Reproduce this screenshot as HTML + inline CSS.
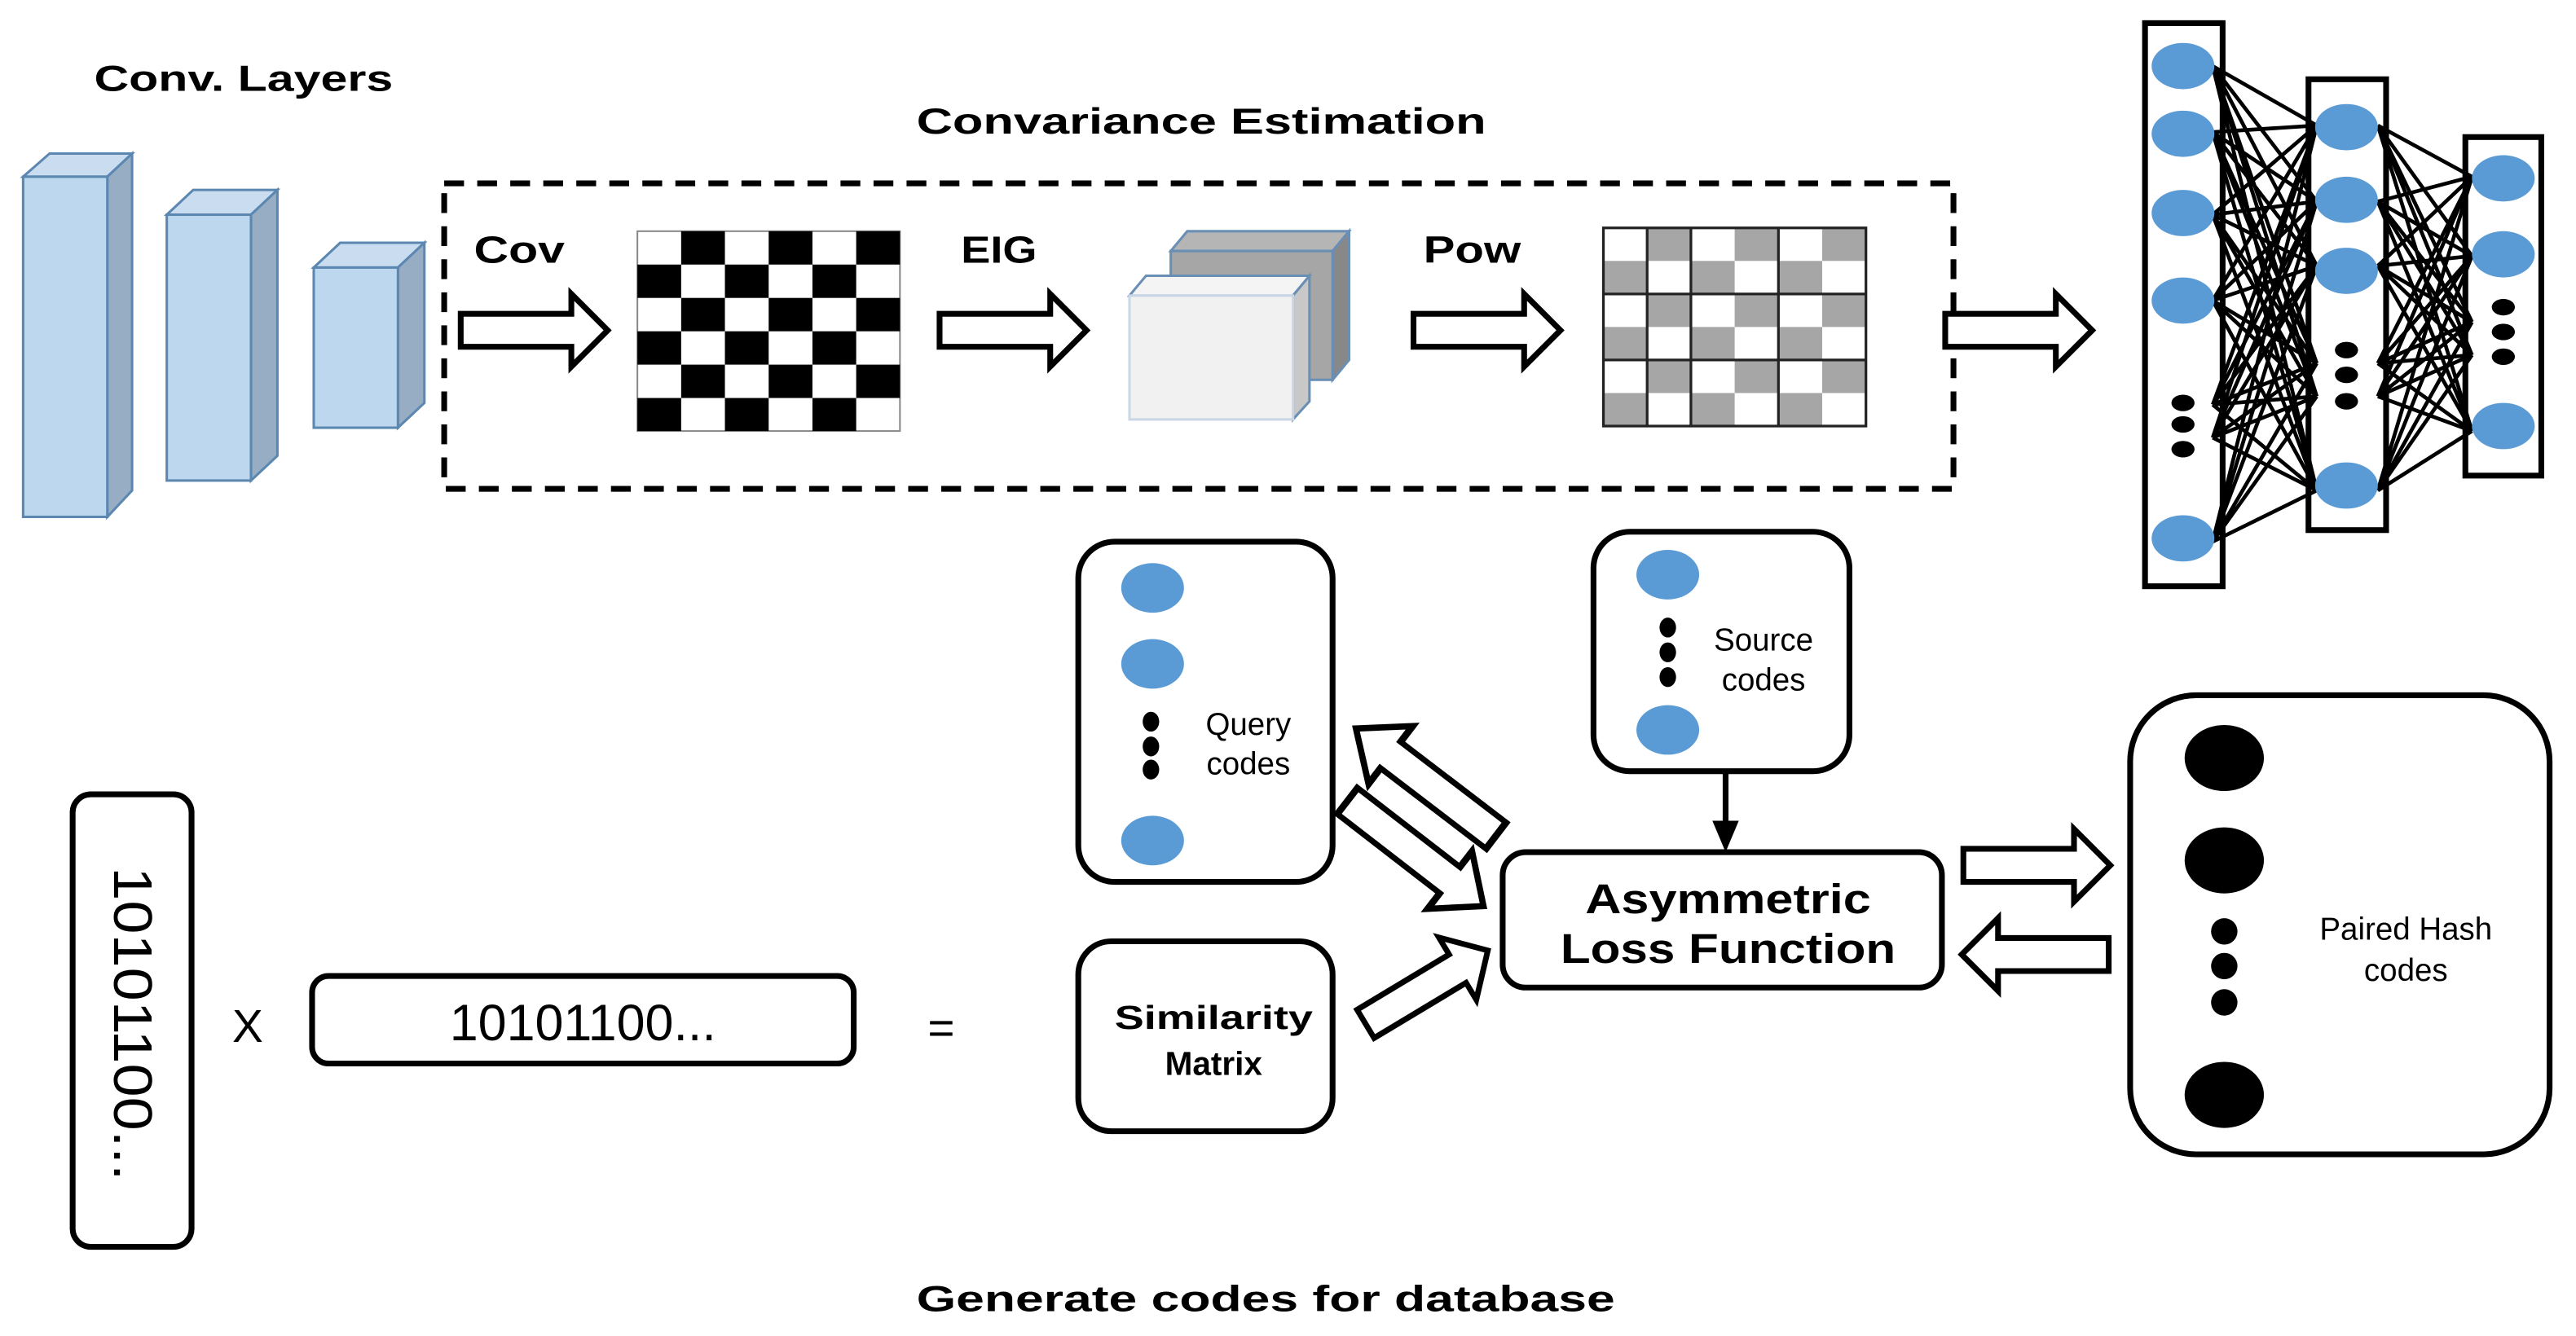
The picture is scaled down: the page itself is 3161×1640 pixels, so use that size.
<!DOCTYPE html>
<html><head><meta charset="utf-8"><style>
html,body{margin:0;padding:0;background:#fff;}
svg{display:block;}
text{font-family:"Liberation Sans",sans-serif;}
</style></head><body>
<svg width="3161" height="1640" viewBox="0 0 1560 809" preserveAspectRatio="none" xmlns="http://www.w3.org/2000/svg">
<defs>
<polygon id="ar" points="0,-10 67,-10 67,-22 89,0 67,22 67,10 0,10" fill="#fff" stroke="#000" stroke-width="3.5" stroke-linejoin="miter"/>
</defs>
<!-- titles -->
<text x="57" y="55" font-size="22" font-weight="bold" textLength="181" lengthAdjust="spacingAndGlyphs">Conv. Layers</text>
<text x="555" y="81" font-size="22" font-weight="bold" textLength="345" lengthAdjust="spacingAndGlyphs">Convariance Estimation</text>

<!-- conv blocks -->
<g stroke="#5b87b0" stroke-width="1.5">
<polygon points="14,107 30,93 80,93 65,107" fill="#c9dcf0"/>
<polygon points="65,107 80,93 80,297 65,313" fill="#97adc4"/>
<rect x="14" y="107" width="51" height="206" fill="#bdd7ee"/>
<polygon points="101,130 117,115 168,115 152,130" fill="#c9dcf0"/>
<polygon points="152,130 168,115 168,276 152,291" fill="#97adc4"/>
<rect x="101" y="130" width="51" height="161" fill="#bdd7ee"/>
<polygon points="190,162 206,147 257,147 241,162" fill="#c9dcf0"/>
<polygon points="241,162 257,147 257,244 241,259" fill="#97adc4"/>
<rect x="190" y="162" width="51" height="97" fill="#bdd7ee"/>
</g>

<!-- dashed box -->
<rect x="269" y="111" width="914" height="185" fill="none" stroke="#000" stroke-width="3.5" stroke-dasharray="12,8"/>

<text x="287" y="159" font-size="23" font-weight="bold" textLength="55" lengthAdjust="spacingAndGlyphs">Cov</text>
<text x="582" y="159" font-size="23" font-weight="bold" textLength="46" lengthAdjust="spacingAndGlyphs">EIG</text>
<text x="862" y="159" font-size="23" font-weight="bold" textLength="59" lengthAdjust="spacingAndGlyphs">Pow</text>

<use href="#ar" transform="translate(279,200)"/>
<use href="#ar" transform="translate(569,200)"/>
<use href="#ar" transform="translate(856,200)"/>
<use href="#ar" transform="translate(1178,200)"/>

<!-- checkerboard 1 -->
<g>
<rect x="386" y="140" width="159" height="121" fill="#fff" stroke="#888" stroke-width="1"/>
<g fill="#000">
<rect x="412.5" y="140" width="26.5" height="20.2"/><rect x="465.5" y="140" width="26.5" height="20.2"/><rect x="518.5" y="140" width="26.5" height="20.2"/>
<rect x="386" y="160.2" width="26.5" height="20.2"/><rect x="439" y="160.2" width="26.5" height="20.2"/><rect x="492" y="160.2" width="26.5" height="20.2"/>
<rect x="412.5" y="180.4" width="26.5" height="20.2"/><rect x="465.5" y="180.4" width="26.5" height="20.2"/><rect x="518.5" y="180.4" width="26.5" height="20.2"/>
<rect x="386" y="200.6" width="26.5" height="20.2"/><rect x="439" y="200.6" width="26.5" height="20.2"/><rect x="492" y="200.6" width="26.5" height="20.2"/>
<rect x="412.5" y="220.8" width="26.5" height="20.2"/><rect x="465.5" y="220.8" width="26.5" height="20.2"/><rect x="518.5" y="220.8" width="26.5" height="20.2"/>
<rect x="386" y="241" width="26.5" height="20"/><rect x="439" y="241" width="26.5" height="20"/><rect x="492" y="241" width="26.5" height="20"/>
</g>
</g>

<!-- stacked sheets -->
<g stroke="#6a8fb5" stroke-width="1.5">
<polygon points="709,152 719,140 817,140 807,152" fill="#b5b5b5"/>
<polygon points="807,152 817,140 817,218 807,230" fill="#888"/>
<rect x="709" y="152" width="98" height="78" fill="#a6a6a6"/>
<polygon points="684,179 694,167 793,167 783,179" fill="#f4f4f4"/>
<polygon points="783,179 793,167 793,243 783,254" fill="#c8c8c8"/>
<rect x="684" y="179" width="99" height="75" fill="#f1f1f1" stroke="#c8d6e6"/>
</g>

<!-- checkerboard 2 (gray) -->
<g>
<rect x="971" y="138" width="159" height="120" fill="#fff"/>
<g fill="#a6a6a6">
<rect x="997.5" y="138" width="26.5" height="20"/><rect x="1050.5" y="138" width="26.5" height="20"/><rect x="1103.5" y="138" width="26.5" height="20"/>
<rect x="971" y="158" width="26.5" height="20"/><rect x="1024" y="158" width="26.5" height="20"/><rect x="1077" y="158" width="26.5" height="20"/>
<rect x="997.5" y="178" width="26.5" height="20"/><rect x="1050.5" y="178" width="26.5" height="20"/><rect x="1103.5" y="178" width="26.5" height="20"/>
<rect x="971" y="198" width="26.5" height="20"/><rect x="1024" y="198" width="26.5" height="20"/><rect x="1077" y="198" width="26.5" height="20"/>
<rect x="997.5" y="218" width="26.5" height="20"/><rect x="1050.5" y="218" width="26.5" height="20"/><rect x="1103.5" y="218" width="26.5" height="20"/>
<rect x="971" y="238" width="26.5" height="20"/><rect x="1024" y="238" width="26.5" height="20"/><rect x="1077" y="238" width="26.5" height="20"/>
</g>
<g stroke="#222" stroke-width="1.6" fill="none">
<rect x="971" y="138" width="159" height="120"/>
<path d="M997.5 138V258M1024 138V258M1077 138V258M971 178H1130M971 218H1130"/>
</g>
</g>

<!-- NN -->
<g stroke="#000" stroke-width="2.3" fill="none">
<path d="M1340 40L1403 76M1340 40L1403 122M1340 40L1403 161M1340 40L1403 220M1340 40L1403 240M1340 40L1403 297
M1340 80L1403 76M1340 80L1403 122M1340 80L1403 161M1340 80L1403 220M1340 80L1403 240M1340 80L1403 297
M1340 130L1403 76M1340 130L1403 122M1340 130L1403 161M1340 130L1403 220M1340 130L1403 240M1340 130L1403 297
M1340 182L1403 76M1340 182L1403 122M1340 182L1403 161M1340 182L1403 220M1340 182L1403 240M1340 182L1403 297
M1340 245L1403 76M1340 245L1403 122M1340 245L1403 161M1340 245L1403 220M1340 245L1403 240M1340 245L1403 297
M1340 265L1403 76M1340 265L1403 122M1340 265L1403 161M1340 265L1403 220M1340 265L1403 240M1340 265L1403 297
M1340 328L1403 76M1340 328L1403 122M1340 328L1403 161M1340 328L1403 220M1340 328L1403 240M1340 328L1403 297
M1440 76L1497 107M1440 76L1497 155M1440 76L1497 195M1440 76L1497 215M1440 76L1497 261
M1440 122L1497 107M1440 122L1497 155M1440 122L1497 195M1440 122L1497 215M1440 122L1497 261
M1440 161L1497 107M1440 161L1497 155M1440 161L1497 195M1440 161L1497 215M1440 161L1497 261
M1440 220L1497 107M1440 220L1497 155M1440 220L1497 195M1440 220L1497 215M1440 220L1497 261
M1440 240L1497 107M1440 240L1497 155M1440 240L1497 195M1440 240L1497 215M1440 240L1497 261
M1440 297L1497 107M1440 297L1497 155M1440 297L1497 195M1440 297L1497 215M1440 297L1497 261"/>
</g>
<g fill="none" stroke="#000" stroke-width="3.5">
<rect x="1299" y="14" width="47" height="341"/>
<rect x="1398" y="48" width="47" height="273"/>
<rect x="1493" y="83" width="46" height="205"/>
</g>
<g fill="#5b9bd5">
<ellipse cx="1322" cy="40" rx="19" ry="14"/><ellipse cx="1322" cy="81" rx="19" ry="14"/><ellipse cx="1322" cy="129" rx="19" ry="14"/><ellipse cx="1322" cy="182" rx="19" ry="14"/><ellipse cx="1322" cy="326" rx="19" ry="14"/>
<ellipse cx="1421" cy="77" rx="19" ry="14"/><ellipse cx="1421" cy="121" rx="19" ry="14"/><ellipse cx="1421" cy="164" rx="19" ry="14"/><ellipse cx="1421" cy="294" rx="19" ry="14"/>
<ellipse cx="1516" cy="108" rx="19" ry="14"/><ellipse cx="1516" cy="154" rx="19" ry="14"/><ellipse cx="1516" cy="258" rx="19" ry="14"/>
</g>
<g fill="#000">
<ellipse cx="1322" cy="244" rx="7" ry="5"/><ellipse cx="1322" cy="257" rx="7" ry="5"/><ellipse cx="1322" cy="272" rx="7" ry="5"/>
<ellipse cx="1421" cy="212" rx="7" ry="5"/><ellipse cx="1421" cy="227" rx="7" ry="5"/><ellipse cx="1421" cy="243" rx="7" ry="5"/>
<ellipse cx="1516" cy="186" rx="7" ry="5"/><ellipse cx="1516" cy="201" rx="7" ry="5"/><ellipse cx="1516" cy="216" rx="7" ry="5"/>
</g>

<!-- Query codes -->
<rect x="653" y="328" width="154" height="206" rx="22" fill="#fff" stroke="#000" stroke-width="3.5"/>
<ellipse cx="698" cy="356" rx="19" ry="15" fill="#5b9bd5"/>
<ellipse cx="698" cy="402" rx="19" ry="15" fill="#5b9bd5"/>
<ellipse cx="698" cy="509" rx="19" ry="15" fill="#5b9bd5"/>
<g fill="#000"><ellipse cx="697" cy="437" rx="5" ry="6"/><ellipse cx="697" cy="452" rx="5" ry="6"/><ellipse cx="697" cy="466" rx="5" ry="6"/></g>
<text x="756" y="445" font-size="19" text-anchor="middle">Query</text>
<text x="756" y="469" font-size="19" text-anchor="middle">codes</text>

<!-- Source codes -->
<rect x="965" y="322" width="155" height="145" rx="22" fill="#fff" stroke="#000" stroke-width="3.5"/>
<ellipse cx="1010" cy="348" rx="19" ry="15" fill="#5b9bd5"/>
<ellipse cx="1010" cy="442" rx="19" ry="15" fill="#5b9bd5"/>
<g fill="#000"><ellipse cx="1010" cy="380" rx="5" ry="6"/><ellipse cx="1010" cy="395" rx="5" ry="6"/><ellipse cx="1010" cy="410" rx="5" ry="6"/></g>
<text x="1068" y="394" font-size="19" text-anchor="middle">Source</text>
<text x="1068" y="418" font-size="19" text-anchor="middle">codes</text>

<!-- source -> loss -->
<line x1="1045" y1="467" x2="1045" y2="500" stroke="#000" stroke-width="3.5"/>
<polygon points="1037,497 1053,497 1045,516" fill="#000"/>

<!-- Asymmetric loss -->
<rect x="910" y="516" width="266" height="82" rx="14" fill="#fff" stroke="#000" stroke-width="3.5"/>
<text x="960" y="553" font-size="25" font-weight="bold" textLength="173" lengthAdjust="spacingAndGlyphs">Asymmetric</text>
<text x="945" y="583" font-size="25" font-weight="bold" textLength="203" lengthAdjust="spacingAndGlyphs">Loss Function</text>

<!-- diagonal arrows -->
<use href="#ar" transform="translate(906,506) rotate(217.4) scale(1.2,1)"/>
<use href="#ar" transform="translate(816,485) rotate(37.7) scale(1.17,1)"/>
<use href="#ar" transform="translate(827,620) rotate(-31) scale(0.97,1)"/>

<!-- right arrows -->
<use href="#ar" transform="translate(1189,524)"/>
<use href="#ar" transform="translate(1277,578) rotate(180)"/>

<!-- Similarity matrix -->
<rect x="653" y="570" width="154" height="115" rx="20" fill="#fff" stroke="#000" stroke-width="3.5"/>
<text x="675" y="623" font-size="20" font-weight="bold" textLength="120" lengthAdjust="spacingAndGlyphs">Similarity</text>
<text x="735" y="651" font-size="20" font-weight="bold" text-anchor="middle">Matrix</text>

<!-- Paired hash codes -->
<rect x="1290" y="421" width="254" height="278" rx="40" fill="#fff" stroke="#000" stroke-width="3.5"/>
<ellipse cx="1347" cy="459" rx="24" ry="20" fill="#000"/>
<ellipse cx="1347" cy="521" rx="24" ry="20" fill="#000"/>
<ellipse cx="1347" cy="663" rx="24" ry="20" fill="#000"/>
<circle cx="1347" cy="564" r="8" fill="#000"/><circle cx="1347" cy="585" r="8" fill="#000"/><circle cx="1347" cy="607" r="8" fill="#000"/>
<text x="1457" y="569" font-size="19" text-anchor="middle">Paired Hash</text>
<text x="1457" y="594" font-size="19" text-anchor="middle">codes</text>

<!-- vertical code box -->
<rect x="44" y="481" width="72" height="274" rx="11" fill="#fff" stroke="#000" stroke-width="3.5"/>
<text transform="translate(69,525) rotate(90)" font-size="33" textLength="190" lengthAdjust="spacingAndGlyphs">10101100...</text>

<text x="150" y="631" font-size="28" text-anchor="middle">X</text>
<rect x="189" y="591" width="328" height="53" rx="10" fill="#fff" stroke="#000" stroke-width="3.5"/>
<text x="353" y="630" font-size="31" text-anchor="middle">10101100...</text>
<text x="570" y="632" font-size="28" text-anchor="middle">=</text>

<text x="555" y="794" font-size="22" font-weight="bold" textLength="423" lengthAdjust="spacingAndGlyphs">Generate codes for database</text>
</svg>
</body></html>
